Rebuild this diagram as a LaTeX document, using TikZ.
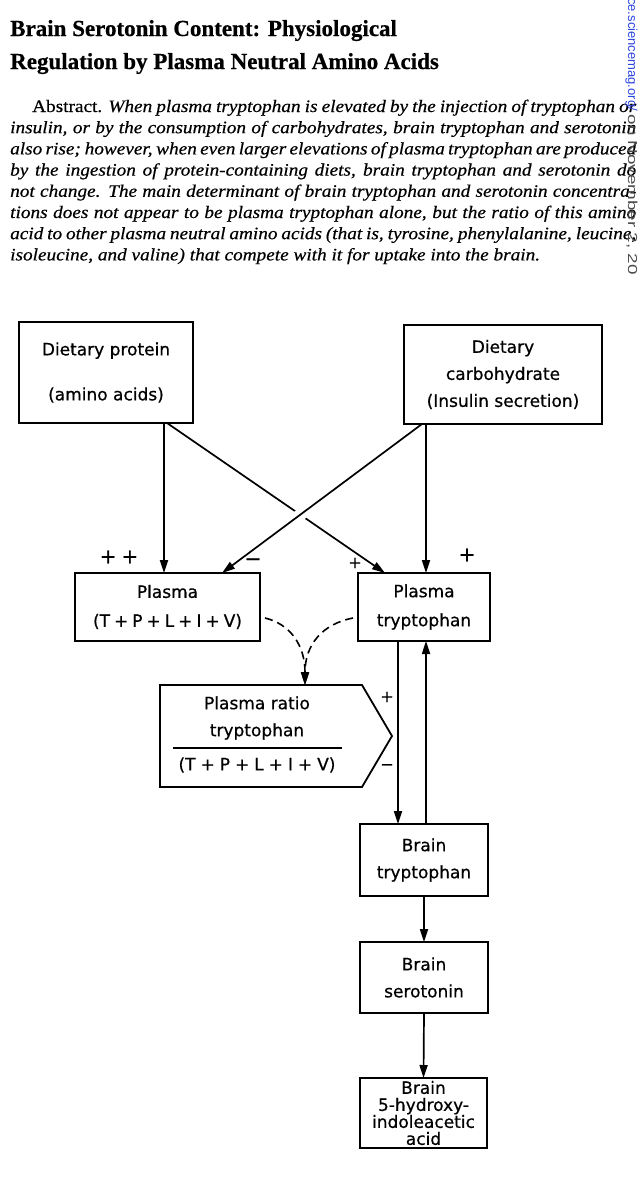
\documentclass[tikz,border=0pt]{standalone}
\usepackage{fontspec}
\setmainfont{Liberation Serif}[FakeBold=0.6]
\newfontfamily\absfont{Liberation Serif}[FakeStretch=1.1,FakeBold=0.5]
\newfontfamily\diafont{DejaVu Sans}[FakeBold=0.6]
\newfontfamily\wmfont{Liberation Sans}
\usetikzlibrary{arrows.meta,calc,intersections}
\definecolor{wmblue}{RGB}{45,70,225}
\tikzset{
  box/.style={draw, line width=1.8pt, inner sep=0pt, outer sep=0pt, align=center,
    font=\diafont\fontsize{17}{27}\selectfont},
  arr/.style={line width=1.7pt, -{Triangle[length=13pt,width=8pt]}},
  dline/.style={line width=1.6pt, dash pattern=on 8pt off 5pt, -{Triangle[length=13pt,width=8pt]}},
  sign/.style={inner sep=0pt, font=\diafont\fontsize{20}{20}\selectfont},
  smallsign/.style={inner sep=0pt, font=\diafont\fontsize{16}{16}\selectfont},
  txt/.style={inner sep=0pt, align=center, font=\diafont\fontsize{17}{27}\selectfont}
}
\begin{document}
\begin{tikzpicture}[x=1pt,y=-1pt]
\fill[white] (0,0) rectangle (640,1200);
\useasboundingbox (0,0) rectangle (640,1200);

% title
\node[anchor=base west, inner sep=0pt] (title) at (10,36)
  {\begin{minipage}[t]{600pt}\bfseries\fontsize{23}{33}\selectfont
   Brain Serotonin Content: Physiological\\
   Regulation by Plasma Neutral Amino Acids\end{minipage}};

% abstract
\node[anchor=base west, inner sep=0pt] (abstract) at (10,112)
  {\begin{minipage}[t]{626pt}\absfont\itshape\fontsize{17.5}{21.2}\selectfont
   \makebox[626pt][s]{\hspace*{22pt}{\upshape Abstract.} When plasma tryptophan is elevated by the injection of tryptophan or}\\
   \makebox[626pt][s]{insulin, or by the consumption of carbohydrates, brain tryptophan and serotonin}\\
   \makebox[626pt][s]{also rise; however, when even larger elevations of plasma tryptophan are produced}\\
   \makebox[626pt][s]{by the ingestion of protein-containing diets, brain tryptophan and serotonin do}\\
   \makebox[626pt][s]{not change. The main determinant of brain tryptophan and serotonin concentra-}\\
   \makebox[626pt][s]{tions does not appear to be plasma tryptophan alone, but the ratio of this amino}\\
   \makebox[626pt][s]{acid to other plasma neutral amino acids (that is, tyrosine, phenylalanine, leucine,}\\
   isoleucine, and valine) that compete with it for uptake into the brain.\end{minipage}};

% watermark
\node[rotate=-90, anchor=base west, inner sep=0pt, font=\wmfont\fontsize{13}{13}\selectfont] (wm) at (628,-2)
  {\textcolor{wmblue}{ce.sciencemag.org/} \textcolor{black!70}{\scalebox{1.45}[1]{on November 2, 20}}};

% boxes
\node[box, minimum width=174pt, minimum height=101pt, font=\diafont\fontsize{17}{45}\selectfont] (prot) at (106,372.5)
  {Dietary protein\\(amino acids)};
\node[box, minimum width=198pt, minimum height=99pt] (carb) at (503,374.5)
  {Dietary\\carbohydrate\\(Insulin secretion)};
\node[box, minimum width=185pt, minimum height=68pt, font=\diafont\fontsize{17}{29}\selectfont] (pneu) at (167.5,607)
  {Plasma\\(T\kern4pt+\kern4pt P\kern4pt+\kern4pt L\kern4pt+\kern4pt I\kern4pt+\kern4pt V)};
\node[box, minimum width=132pt, minimum height=68pt, font=\diafont\fontsize{17}{29}\selectfont] (ptrp) at (424,607)
  {Plasma\\tryptophan};
\node[box, minimum width=128pt, minimum height=72pt] (btrp) at (424,860)
  {Brain\\tryptophan};
\node[box, minimum width=128pt, minimum height=71pt] (bser) at (424,977.5)
  {Brain\\serotonin};
\node[box, minimum width=127pt, minimum height=70pt, font=\diafont\fontsize{17}{17}\selectfont] (bhiaa) at (423.5,1113)
  {Brain\\5-hydroxy-\\indoleacetic\\acid};

% ratio pentagon
\draw[line width=1.8pt, line join=miter] (160,685) -- (362,685) -- (392,736) -- (362,787) -- (160,787) -- cycle;
\coordinate (rtop) at (305,685);
\node[txt] (rnum) at (257,718) {Plasma ratio\\tryptophan};
\draw[line width=1.6pt] (173,748) -- (342,748);
\node[txt] (rden) at (257,765) {(T\kern5pt+\kern5pt P\kern5pt+\kern5pt L\kern5pt+\kern5pt I\kern5pt+\kern5pt V)};

% helper coordinates
\coordinate (pa) at (164,0);
\coordinate (ca) at (426,0);
\coordinate (dx) at (398,0);
\coordinate (ux) at (426,0);
\coordinate (ps) at ($(prot.south east)+(-26,0)$);
\coordinate (pe) at ($(ptrp.north west)+(27,0)$);
\coordinate (cs) at ($(carb.south west)+(18,0)$);
\coordinate (ce) at ($(pneu.north east)+(-38,0)$);

% vertical arrows from dietary boxes
\draw[arr] (prot.south -| pa) -- (pneu.north -| pa);
\draw[arr] (carb.south -| ca) -- (ptrp.north -| ca);

% crossing diagonals
\path[name path=pd] (ps) -- (pe);
\path[name path=cd] (cs) -- (ce);
\path[name intersections={of=pd and cd, by=X}];
\draw[arr] (ps) -- (pe);
\draw[white, line width=12pt] ($(X)!8pt!(cs)$) -- ($(X)!8pt!(ce)$);
\draw[arr] (cs) -- (ce);

% dashed convergence
\draw[dline] ($(pneu.east)+(5,11)$) .. controls (290,624) and (305,645) .. (rtop);
\draw[dline] ($(ptrp.west)+(-5,11)$) .. controls (322,624) and (305,645) .. (rtop);

% plasma tryptophan <-> brain tryptophan
\draw[arr] (ptrp.south -| dx) -- (btrp.north -| dx);
\draw[arr] (btrp.north -| ux) -- (ptrp.south -| ux);
\draw[arr] (btrp.south) -- (bser.north);
\draw[arr] (bser.south) -- (bhiaa.north);

% signs
\node[sign] (pp) at (119,557) {+\kern5pt+};
\node[sign] (m1) at (253,562) {−};
\node[smallsign] (p1) at (355,563) {+};
\node[sign] (p2) at (467,555) {+};
\node[smallsign] (p3) at (387,697) {+};
\node[smallsign] (m2) at (387,767) {−};
\end{tikzpicture}
\end{document}
